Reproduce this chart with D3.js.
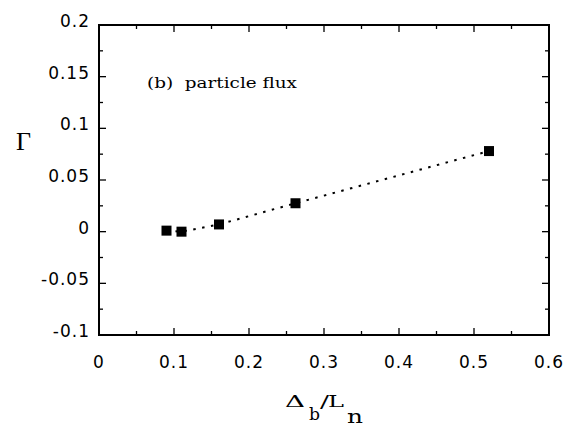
<!DOCTYPE html>
<html>
<head>
<meta charset="utf-8">
<script src="https://cdn.jsdelivr.net/npm/d3@7"></script>
<style>
  body { margin: 0; background: #fff; }
  .tick-label { font-family: "DejaVu Sans", sans-serif; font-size: 17px; letter-spacing: 1px; fill: #000; }
  .serif { font-family: "DejaVu Serif", "Liberation Serif", serif; fill: #000; white-space: pre; }
</style>
</head>
<body>
<div id="chart"></div>
<script>
// data
var ratio = [0.09, 0.11, 0.16, 0.262, 0.52]
var flux = [0.001, 0.0, 0.007, 0.0275, 0.078]

var xTicks = [0, 0.1, 0.2, 0.3, 0.4, 0.5, 0.6]
var yTicks = [-0.1, -0.05, 0, 0.05, 0.1, 0.15, 0.2]
var xTickLabels = ["0", "0.1", "0.2", "0.3", "0.4", "0.5", "0.6"]
var yTickLabels = ["-0.1", "-0.05", "0", "0.05", "0.1", "0.15", "0.2"]

var margin = { top: 25, right: 28, bottom: 100, left: 99 }
var width = 577 - margin.left - margin.right
var height = 435 - margin.top - margin.bottom

var svg = d3.select("#chart")
  .append("svg")
  .attr("width", 577)
  .attr("height", 435)

var g = svg.append("g")
  .attr("transform", "translate(" + margin.left + "," + margin.top + ")")

var x = d3.scaleLinear().domain([0, 0.6]).range([0, width])
var y = d3.scaleLinear().domain([-0.1, 0.2]).range([height, 0])

// frame
g.append("rect")
  .attr("width", width)
  .attr("height", height)
  .attr("fill", "none")
  .attr("stroke", "#000")
  .attr("stroke-width", 2)

// inward ticks on all four sides
var xMinor = d3.range(0.05, 0.6, 0.1)
var yMinor = d3.range(-0.075, 0.2, 0.05)

function xTickMarks(vals, len) {
  vals.forEach(function (v) {
    g.append("line").attr("x1", x(v)).attr("x2", x(v)).attr("y1", height).attr("y2", height - len).attr("stroke", "#000").attr("stroke-width", 1.3)
    g.append("line").attr("x1", x(v)).attr("x2", x(v)).attr("y1", 0).attr("y2", len).attr("stroke", "#000").attr("stroke-width", 1.3)
  })
}
function yTickMarks(vals, len) {
  vals.forEach(function (v) {
    g.append("line").attr("x1", 0).attr("x2", len).attr("y1", y(v)).attr("y2", y(v)).attr("stroke", "#000").attr("stroke-width", 1.3)
    g.append("line").attr("x1", width).attr("x2", width - len).attr("y1", y(v)).attr("y2", y(v)).attr("stroke", "#000").attr("stroke-width", 1.3)
  })
}
xTickMarks(xTicks.slice(1, -1), 7)
xTickMarks(xMinor, 4)
yTickMarks(yTicks.slice(1, -1), 7)
yTickMarks(yMinor, 4)

// tick labels
g.selectAll(".xlab")
  .data(xTicks)
  .enter()
  .append("text")
  .attr("class", "tick-label")
  .attr("x", function (d) { return x(d) })
  .attr("y", height + 33)
  .attr("text-anchor", "middle")
  .text(function (d, i) { return xTickLabels[i] })

g.selectAll(".ylab")
  .data(yTicks)
  .enter()
  .append("text")
  .attr("class", "tick-label")
  .attr("x", -9)
  .attr("y", function (d) { return y(d) + 2 })
  .attr("text-anchor", "end")
  .text(function (d, i) { return yTickLabels[i] })

// axis titles
svg.append("text")
  .attr("class", "serif")
  .attr("x", 16)
  .attr("y", 150)
  .style("font-family", "Liberation Serif")
  .style("font-size", "26px")
  .text("Γ")

function serifText(str, px, py, size, len) {
  svg.append("text")
    .attr("class", "serif")
    .attr("x", px)
    .attr("y", py)
    .style("font-size", size + "px")
    .attr("textLength", len)
    .attr("lengthAdjust", "spacingAndGlyphs")
    .text(str)
}
serifText("Δ", 285, 407, 17, 20)
serifText("b", 309, 420, 17, 11)
serifText("/", 320, 407, 17, 9)
serifText("L", 328, 407, 17, 16)
serifText("n", 347, 423, 19, 16)

// annotation
svg.append("text")
  .attr("class", "serif")
  .attr("x", 147)
  .attr("y", 88)
  .style("font-size", "15px")
  .attr("textLength", 150)
  .attr("lengthAdjust", "spacingAndGlyphs")
  .text("(b)  particle flux")

// dotted line
var line = d3.line()
  .x(function (d, i) { return x(ratio[i]) })
  .y(function (d) { return y(d) })

g.append("path")
  .datum(flux)
  .attr("d", line)
  .attr("fill", "none")
  .attr("stroke", "#000")
  .attr("stroke-width", 2)
  .attr("stroke-dasharray", "2.5,6.5")

// square markers
g.selectAll(".pt")
  .data(flux)
  .enter()
  .append("rect")
  .attr("class", "pt")
  .attr("x", function (d, i) { return x(ratio[i]) - 5 })
  .attr("y", function (d) { return y(d) - 5 })
  .attr("width", 10)
  .attr("height", 10)
  .attr("fill", "#000")
</script>
</body>
</html>
